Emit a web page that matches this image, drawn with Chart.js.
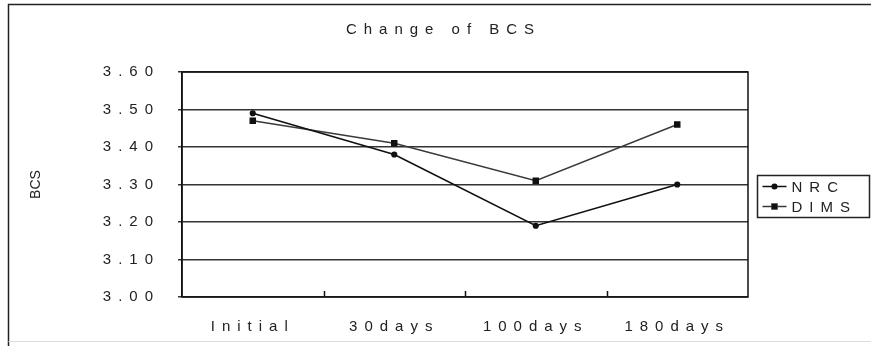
<!DOCTYPE html>
<html>
<head>
<meta charset="utf-8">
<script src="https://cdn.jsdelivr.net/npm/chart.js@4/dist/chart.umd.min.js"></script>
<style>
  html, body { margin: 0; padding: 0; background: #fff; }
  #wrap { width: 871px; height: 347px; position: relative; }
</style>
</head>
<body>
<div id="wrap"><canvas id="c" width="871" height="347"></canvas></div>
<script>
// Body condition score over the lactation, two feeding systems
const periods = ['Initial', '30days', '100days', '180days'];
const nrcValues = [3.49, 3.38, 3.19, 3.30];
const dimsValues = [3.47, 3.41, 3.31, 3.46];
const seriesNames = ['NRC', 'DIMS'];
const chartTitle = 'Change of BCS';
const yAxisTitle = 'BCS';

const FONT = "'Liberation Sans', Arial, sans-serif";
const SPACING = '7px';

// spaced lettering on every text the chart draws, plus frame, axis title and legend box
const spacedText = {
  id: 'spacedText',
  beforeUpdate(chart) { chart.ctx.letterSpacing = SPACING; },
  beforeDraw(chart) {
    const ctx = chart.ctx;
    ctx.letterSpacing = SPACING;
    // outer frame
    ctx.save();
    ctx.strokeStyle = '#222';
    ctx.lineWidth = 1.5;
    ctx.beginPath();
    ctx.moveTo(8.5, 346);
    ctx.lineTo(8.5, 4.5);
    ctx.lineTo(871, 4.5);
    ctx.stroke();
    ctx.strokeStyle = '#ddd';
    ctx.lineWidth = 1;
    ctx.beginPath();
    ctx.moveTo(8.5, 341.5);
    ctx.lineTo(871, 341.5);
    ctx.stroke();
    ctx.restore();
  },
  afterDraw(chart) {
    const ctx = chart.ctx;
    const area = chart.chartArea;
    const xs = chart.scales.x;
    ctx.save();
    // plot frame
    ctx.strokeStyle = '#111';
    ctx.lineWidth = 1.5;
    ctx.strokeRect(area.left, area.top, area.right - area.left, area.bottom - area.top);
    // category separators, pointing into the plot
    ctx.beginPath();
    for (let i = 0; i < periods.length - 1; i++) {
      const px = Math.round((xs.getPixelForValue(i) + xs.getPixelForValue(i + 1)) / 2) + 0.5;
      ctx.moveTo(px, area.bottom);
      ctx.lineTo(px, area.bottom - 6);
    }
    ctx.stroke();

    // rotated axis title
    ctx.letterSpacing = '0px';
    ctx.fillStyle = '#222';
    ctx.font = '14px ' + FONT;
    ctx.translate(36, (area.top + area.bottom) / 2);
    ctx.rotate(-Math.PI / 2);
    ctx.textAlign = 'center';
    ctx.textBaseline = 'middle';
    ctx.fillText(yAxisTitle, 0, 0);
    ctx.restore();

    // legend box
    ctx.save();
    ctx.letterSpacing = SPACING;
    const bx = 757.5, by = 175.5, bw = 112, bh = 42;
    ctx.strokeStyle = '#222';
    ctx.lineWidth = 1.5;
    ctx.strokeRect(bx, by, bw, bh);
    ctx.font = '15px ' + FONT;
    ctx.textBaseline = 'middle';
    ctx.textAlign = 'left';
    chart.data.datasets.forEach((ds, i) => {
      const cy = by + 11 + i * 20;
      ctx.strokeStyle = ds.borderColor;
      ctx.lineWidth = 1.5;
      ctx.beginPath();
      ctx.moveTo(bx + 5, cy);
      ctx.lineTo(bx + 29, cy);
      ctx.stroke();
      Chart.helpers.drawPoint(ctx, {
        pointStyle: ds.pointStyle, radius: ds.pointRadius, rotation: 0,
        borderWidth: 1
      }, bx + 17, cy);
      ctx.fillStyle = ds.pointBackgroundColor;
      ctx.fill();
      ctx.fillStyle = '#222';
      ctx.fillText(ds.label, bx + 34, cy + 1);
    });
    ctx.restore();
  }
};

new Chart(document.getElementById('c'), {
  type: 'line',
  data: {
    labels: periods,
    datasets: [
      {
        label: seriesNames[0],
        data: nrcValues,
        borderColor: '#111',
        backgroundColor: '#111',
        pointBackgroundColor: '#111',
        pointBorderColor: '#111',
        borderWidth: 1.6,
        pointStyle: 'circle',
        pointRadius: 2.3,
        tension: 0
      },
      {
        label: seriesNames[1],
        data: dimsValues,
        borderColor: '#3a3a3a',
        backgroundColor: '#111',
        pointBackgroundColor: '#111',
        pointBorderColor: '#111',
        borderWidth: 1.4,
        pointStyle: 'rect',
        pointRadius: 3.6,
        tension: 0
      }
    ]
  },
  options: {
    responsive: false,
    animation: false,
    devicePixelRatio: 1,
    layout: { padding: { left: 16, right: 0, top: 0, bottom: 0 } },
    plugins: {
      legend: { display: false },
      tooltip: { enabled: false },
      title: {
        display: true,
        text: chartTitle,
        color: '#222',
        font: { family: FONT, size: 15, weight: 'normal', lineHeight: 1.2 },
        padding: { top: 21, bottom: 33 }
      }
    },
    scales: {
      x: {
        offset: true,
        grid: { display: false },
        border: { display: false },
        ticks: {
          color: '#222',
          font: { family: FONT, size: 15 },
          padding: 13,
          maxRotation: 0,
          autoSkip: false
        },
        afterFit(scale) { scale.height = 50; }
      },
      y: {
        min: 3.0,
        max: 3.6,
        grid: {
          color: '#333',
          lineWidth: 1.5,
          tickLength: 4,
          tickColor: '#333',
          tickWidth: 1.5
        },
        border: { display: true, color: '#111', width: 1.5 },
        ticks: {
          stepSize: 0.1,
          color: '#222',
          font: { family: FONT, size: 15 },
          padding: 18,
          callback: (v) => Number(v).toFixed(2)
        },
        afterFit(scale) { scale.width = 166; }
      },
      // empty right-hand strip that holds the legend box
      legendStrip: {
        type: 'linear',
        position: 'right',
        display: true,
        grid: { display: false },
        border: { display: false },
        ticks: { display: false },
        afterFit(scale) { scale.width = 123; }
      }
    }
  },
  plugins: [spacedText]
});
</script>
</body>
</html>
